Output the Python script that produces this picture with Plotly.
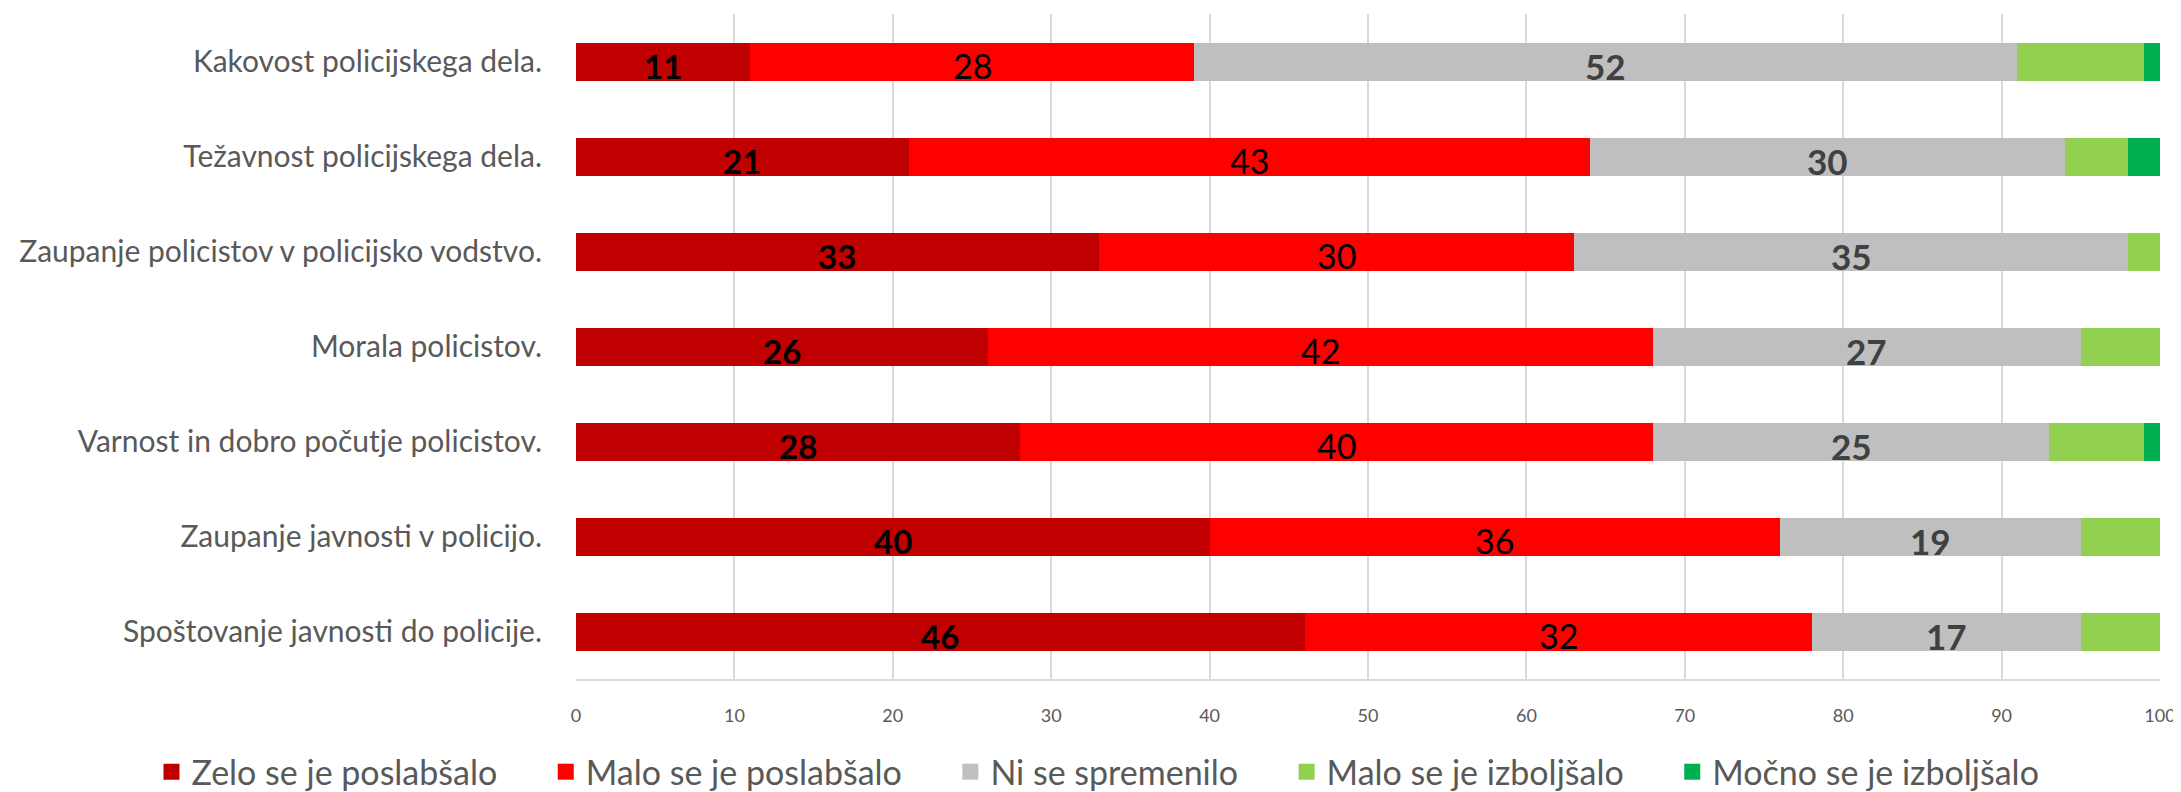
import plotly.graph_objects as go

categories = [
    "Kakovost policijskega dela.",
    "Težavnost policijskega dela.",
    "Zaupanje policistov v policijsko vodstvo.",
    "Morala policistov.",
    "Varnost in dobro počutje policistov.",
    "Zaupanje javnosti v policijo.",
    "Spoštovanje javnosti do policije.",
]
series_names = [
    "Zelo se je poslabšalo",
    "Malo se je poslabšalo",
    "Ni se spremenilo",
    "Malo se je izboljšalo",
    "Močno se je izboljšalo",
]
zelo_poslabsalo = [11, 21, 33, 26, 28, 40, 46]
malo_poslabsalo = [28, 43, 30, 42, 40, 36, 32]
ni_spremenilo = [52, 30, 35, 27, 25, 19, 17]
malo_izboljsalo = [8, 4, 2, 5, 6, 5, 5]
mocno_izboljsalo = [1, 2, 0, 0, 1, 0, 0]
x_ticks = [0, 10, 20, 30, 40, 50, 60, 70, 80, 90, 100]

series = [zelo_poslabsalo, malo_poslabsalo, ni_spremenilo, malo_izboljsalo, mocno_izboljsalo]
colors = ["#C00000", "#FF0000", "#BFBFBF", "#92D050", "#00B050"]
label_fonts = [
    dict(family="Lato", size=33, color="#000000", weight="bold"),
    dict(family="Lato", size=34, color="#000000"),
    dict(family="Lato", size=35, color="#404040", weight="bold"),
    None,
    None,
]

fig = go.Figure()
for name, vals, col in zip(series_names, series, colors):
    fig.add_trace(go.Bar(
        y=categories, x=vals, name=name, orientation="h",
        marker=dict(color=col, line=dict(width=0)),
        hoverinfo="skip", showlegend=False, legendgroup=name,
    ))
# legend entries (square swatches)
pad = "\u00a0" * 5
for name, col in zip(series_names, colors):
    fig.add_trace(go.Scatter(
        x=[None], y=[None], mode="markers", name=name + pad,
        marker=dict(symbol="square", size=22, color=col, line=dict(width=0)),
        showlegend=True, legendgroup=name, hoverinfo="skip",
    ))

annotations = []
cum = [0] * len(categories)
for vals, font in zip(series, label_fonts):
    for i, v in enumerate(vals):
        if font is not None and v > 0:
            annotations.append(dict(
                x=cum[i] + v / 2, y=categories[i], xref="x", yref="y",
                text=str(v), showarrow=False, font=font, yshift=-4,
            ))
        cum[i] += v

fig.update_layout(
    width=2173, height=784,
    barmode="stack", bargap=0.6,
    margin=dict(l=568, r=21, t=6, b=113, autoexpand=False),
    plot_bgcolor="white", paper_bgcolor="white",
    font=dict(family="Lato", color="#595959"),
    annotations=annotations,
    legend=dict(
        orientation="h", xref="paper", yref="paper",
        x=-0.268, xanchor="left", y=-0.14, yanchor="middle",
        font=dict(family="Lato", size=34, color="#595959"),
        traceorder="normal", itemsizing="trace",
    ),
    xaxis=dict(
        range=[0, 100], tickvals=x_ticks, ticktext=[str(t) for t in x_ticks],
        showgrid=True, gridcolor="#D9D9D9", gridwidth=1.5,
        zeroline=False, showline=True, linecolor="#D9D9D9", linewidth=1.5,
        tickfont=dict(family="Lato", size=18, color="#595959"),
        ticks="", ticklabelstandoff=20, mirror=False, automargin=False,
    ),
    yaxis=dict(
        autorange="reversed", showgrid=False, zeroline=False,
        showline=False, ticks="", ticklabelstandoff=33, automargin=False,
        tickfont=dict(family="Lato", size=30, color="#595959"),
    ),
)

fig.write_html("out.html")
